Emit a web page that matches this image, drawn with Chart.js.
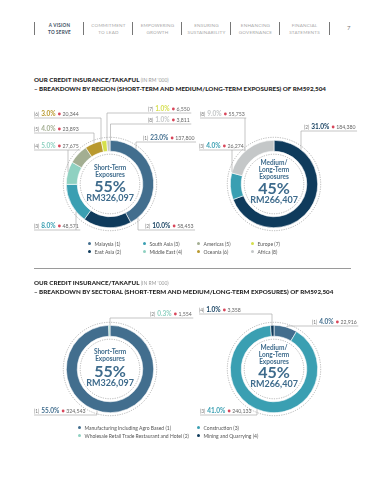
<!DOCTYPE html>
<html>
<head>
<meta charset="utf-8">
<script src="https://cdn.jsdelivr.net/npm/chart.js@4.4.0/dist/chart.umd.min.js"></script>
<style>
  body { margin: 0; width: 377px; height: 480px; background: #fff; position: relative; overflow: hidden; font-family: Lato, "Open Sans", sans-serif; }
  .nav { position: absolute; top: 22px; width: 49px; height: 13px; border-left: 0.7px solid #777; text-align: center; font-size: 4.6px; line-height: 6.5px; color: #a8a8a8; letter-spacing: 0.2px; }
  .nav.on { color: #3c4d5e; font-weight: bold; }
  .page { position: absolute; left: 347px; top: 24px; font-size: 6px; color: #777; }
  .title { position: absolute; left: 34px; font-size: 6.25px; font-weight: 900; color: #1f1f1f; line-height: 8.5px; white-space: nowrap; }
  .title span { font-weight: normal; color: #9a9a9a; font-size: 5px; }
  .rule { position: absolute; left: 34px; width: 317px; top: 268px; border-top: 0.8px solid #9a9a9a; }
  canvas { position: absolute; left: 0; }
  .leg { position: absolute; font-size: 5px; color: #555; white-space: nowrap; }
  .leg i { display: inline-block; width: 3px; height: 3px; border-radius: 50%; margin-right: 4px; vertical-align: middle; position: relative; top: -0.5px; }
</style>
</head>
<body>
<div id="navs"></div>
<div class="page">7</div>

<div class="title" style="top:76px">OUR CREDIT INSURANCE/TAKAFUL <span>(IN RM '000)</span><br>– BREAKDOWN BY REGION (SHORT-TERM AND MEDIUM/LONG-TERM EXPOSURES) OF RM592,504</div>
<canvas id="regionShort" width="377" height="145" style="top:96px"></canvas>
<canvas id="regionLong" width="377" height="145" style="top:96px"></canvas>
<div id="legend1"></div>
<div class="rule"></div>

<div class="title" style="top:279px">OUR CREDIT INSURANCE/TAKAFUL <span>(IN RM '000)</span><br>– BREAKDOWN BY SECTORAL (SHORT-TERM AND MEDIUM/LONG-TERM EXPOSURES) OF RM592,504</div>
<canvas id="sectorShort" width="377" height="122" style="top:300px"></canvas>
<canvas id="sectorLong" width="377" height="122" style="top:300px"></canvas>
<div id="legend2"></div>

<script>
// データ
const regionNames = ['Malaysia', 'East Asia', 'South Asia', 'Middle East', 'Americas', 'Oceania', 'Europe', 'Africa'];
const regionShortValues = [137800, 58453, 48571, 27675, 23893, 20344, 6550, 3811];
const regionShortPct = [23.0, 10.0, 8.0, 5.0, 4.0, 3.0, 1.0, 1.0];
const regionLongValues = [0, 184380, 26274, 0, 0, 0, 0, 55753];
const regionLongPct = [0, 31.0, 4.0, 0, 0, 0, 0, 9.0];

const sectorNames = ['Manufacturing Including Agro Based', 'Wholesale Retail Trade Restaurant and Hotel', 'Construction', 'Mining and Quarrying'];
const sectorShortValues = [324543, 1554, 0, 0];
const sectorShortPct = [55.0, 0.3, 0, 0];
const sectorLongValues = [22916, 0, 240133, 3358];
const sectorLongPct = [4.0, 0, 41.0, 1.0];

const shareLabels = ['55%', '45%'];
const totalLabels = ['RM326,097', 'RM266,407'];
const centerTitles = [['Short-Term', 'Exposures'], ['Medium/', 'Long-Term', 'Exposures']];

const navItems = [['A VISION', 'TO SERVE'], ['COMMITMENT', 'TO LEAD'], ['EMPOWERING', 'GROWTH'], ['ENSURING', 'SUSTAINABILITY'], ['ENHANCING', 'GOVERNANCE'], ['FINANCIAL', 'STATEMENTS']];

// 色
const regionColors = ['#426e8e', '#0f3b5c', '#3a9fb2', '#8fd1c1', '#a3ae92', '#b9992e', '#d5df4c', '#c4c7c8'];
const sectorColors = ['#426e8e', '#8fd1c1', '#3a9fb2', '#0f3b5c'];
const ink = '#3e6b8c';

// ナビ
navItems.forEach((n, k) => {
  const d = document.createElement('div');
  d.className = 'nav' + (k === 0 ? ' on' : '');
  d.style.left = (34 + k * 49) + 'px';
  if (k === navItems.length - 1) d.style.borderRight = '0.7px solid #777';
  d.innerHTML = n.join('<br>');
  document.getElementById('navs').appendChild(d);
});

// 凡例
function buildLegend(el, names, colors, cols, rows) {
  names.forEach((name, i) => {
    const d = document.createElement('div');
    d.className = 'leg';
    d.style.left = (cols[Math.floor(i / 2)] - 1.5) + 'px';
    d.style.top = (rows[i % 2] - 3.5) + 'px';
    d.innerHTML = `<i style="background:${colors[i]}"></i>${name} (${i + 1})`;
    document.getElementById(el).appendChild(d);
  });
}
buildLegend('legend1', regionNames, regionColors, [89, 144, 198, 252], [244, 252]);
buildLegend('legend2', sectorNames, sectorColors, [79, 198], [428, 436]);

// リング装飾・ラベル・中央テキスト
function makeDecor(cfg) {
  return {
    id: 'ringDecor',
    afterDatasetsDraw(chart) {
      const ctx = chart.ctx;
      const arc = chart.getDatasetMeta(0).data[0];
      const cx = arc.x, cy = arc.y, R = arc.outerRadius, r = arc.innerRadius;
      ctx.save();

      // 点線の円
      ctx.strokeStyle = '#8c8c8c';
      ctx.lineWidth = 0.6;
      ctx.setLineDash([1.2, 1.2]);
      [R + 3, r - 3].forEach(rad => {
        ctx.beginPath();
        ctx.arc(cx, cy, rad, 0, Math.PI * 2);
        ctx.stroke();
      });
      ctx.setLineDash([]);

      // 中央テキスト
      ctx.textAlign = 'center';
      ctx.textBaseline = 'middle';
      ctx.fillStyle = ink;
      cfg.title.forEach((t, k) => {
        ctx.font = 'bold 6.5px Lato';
        ctx.fillText(t, cx, cy + cfg.titleTop + k * 7.2);
      });
      ctx.font = 'bold 16px Lato';
      ctx.fillText(cfg.share, cx, cy + cfg.shareDy);
      ctx.font = 'bold 9px Lato';
      ctx.fillText(cfg.total, cx, cy + cfg.shareDy + 11);

      // ラベル
      ctx.textAlign = 'left';
      cfg.labels.forEach(l => {
        const y = l.y - cfg.top;
        const tag = `(${l.i + 1})`;
        const pct = `${cfg.pct[l.i].toFixed(1)}%`;
        const val = cfg.values[l.i].toLocaleString('en-US');
        let x = l.x;
        ctx.font = '4.8px Lato';
        ctx.fillStyle = '#777';
        ctx.fillText(tag, x, y);
        x += ctx.measureText(tag).width + 1.8;
        ctx.font = 'bold 6.5px Lato';
        ctx.fillStyle = cfg.colors[l.i];
        ctx.fillText(pct, x, y);
        x += ctx.measureText(pct).width + 2.5;
        ctx.beginPath();
        ctx.arc(x + 1.3, y, 1.4, 0, Math.PI * 2);
        ctx.fillStyle = '#d8465a';
        ctx.fill();
        x += 4.5;
        ctx.font = '5.2px Lato';
        ctx.fillStyle = '#666';
        ctx.fillText(val, x, y);
        x += ctx.measureText(val).width;

        // 引き出し線
        const uy = y + 4;
        ctx.strokeStyle = '#a0a0a0';
        ctx.lineWidth = 0.6;
        ctx.beginPath();
        ctx.moveTo(Math.min(l.x, l.ex), uy);
        ctx.lineTo(Math.max(x + 1.5, l.ex), uy);
        const dx = l.ex - cx;
        if (Math.abs(dx) < R) {
          const dy = Math.sqrt(R * R - dx * dx);
          ctx.moveTo(l.ex, uy);
          ctx.lineTo(l.ex, uy < cy ? cy - dy : cy + dy);
        }
        ctx.stroke();
      });
      ctx.restore();
    }
  };
}

function drawDonut(id, values, colors, pad, cfg) {
  new Chart(document.getElementById(id), {
    type: 'doughnut',
    data: {
      labels: values.map((v, i) => i),
      datasets: [{ data: values, backgroundColor: colors, borderColor: '#fff', borderWidth: 0.6 }]
    },
    options: {
      responsive: false,
      animation: false,
      cutout: '75%',
      layout: { padding: pad },
      plugins: { legend: { display: false }, tooltip: { enabled: false } }
    },
    plugins: [makeDecor(cfg)]
  });
}

// 地域別
drawDonut('regionShort', regionShortValues, regionColors,
  { left: 66, right: 223, top: 44, bottom: 13 },
  { top: 96, values: regionShortValues, pct: regionShortPct, colors: regionColors,
    title: centerTitles[0], titleTop: -16, share: shareLabels[0], total: totalLabels[0], shareDy: 3,
    labels: [
      { i: 5, x: 34, y: 114, ex: 101 },
      { i: 6, x: 148, y: 109, ex: 107 },
      { i: 7, x: 148, y: 120, ex: 110.5 },
      { i: 4, x: 34, y: 129, ex: 94 },
      { i: 0, x: 143, y: 138, ex: 136 },
      { i: 3, x: 34, y: 146, ex: 68 },
      { i: 2, x: 34, y: 226, ex: 76 },
      { i: 1, x: 145, y: 226, ex: 138 }
    ] });

drawDonut('regionLong', regionLongValues, regionColors,
  { left: 230, right: 59, top: 44, bottom: 13 },
  { top: 96, values: regionLongValues, pct: regionLongPct, colors: regionColors,
    title: centerTitles[1], titleTop: -21, share: shareLabels[1], total: totalLabels[1], shareDy: 5,
    labels: [
      { i: 7, x: 200, y: 114, ex: 245 },
      { i: 1, x: 304, y: 127, ex: 301 },
      { i: 2, x: 199, y: 146, ex: 232 }
    ] });

// セクター別
drawDonut('sectorShort', sectorShortValues, sectorColors,
  { left: 66, right: 223, top: 25, bottom: 9 },
  { top: 300, values: sectorShortValues, pct: sectorShortPct, colors: sectorColors,
    title: centerTitles[0], titleTop: -17, share: shareLabels[0], total: totalLabels[0], shareDy: 3,
    labels: [
      { i: 1, x: 150, y: 314, ex: 110 },
      { i: 0, x: 34, y: 411, ex: 97 }
    ] });

drawDonut('sectorLong', sectorLongValues, sectorColors,
  { left: 230, right: 59, top: 25, bottom: 9 },
  { top: 300, values: sectorLongValues, pct: sectorLongPct, colors: sectorColors,
    title: centerTitles[1], titleTop: -21, share: shareLabels[1], total: totalLabels[1], shareDy: 4,
    labels: [
      { i: 3, x: 199, y: 310, ex: 272 },
      { i: 0, x: 312, y: 322, ex: 287 },
      { i: 2, x: 200, y: 411, ex: 257 }
    ] });
</script>
</body>
</html>
